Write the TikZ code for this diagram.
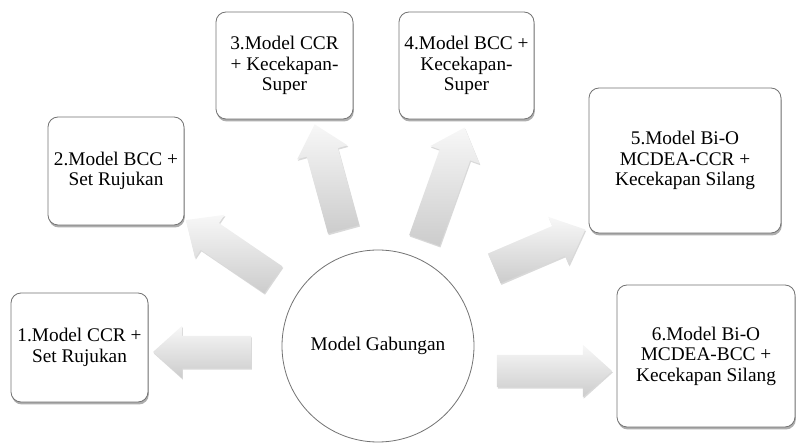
\documentclass[tikz,border=0pt]{standalone}
\usepackage{fontspec}
\setmainfont{Liberation Serif}
\usetikzlibrary{shapes.arrows,shadows}
\begin{document}
\begin{tikzpicture}[x=1pt,y=-1pt,
  txt/.style={font=\fontsize{19.3}{20.5}\selectfont, align=center},
  box/.style={txt, draw=black!55, line width=0.8pt, rounded corners=10pt, fill=white, inner sep=0pt,
    drop shadow={shadow xshift=0.8pt, shadow yshift=-2.5pt, opacity=0.45, fill=black!70}},
  blk/.style={single arrow, draw=none, inner xsep=0pt, inner ysep=16pt, outer sep=0pt,
    single arrow head extend=10pt, single arrow tip angle=84,
    top color=black!3, bottom color=black!20,
    drop shadow={shadow xshift=0.8pt, shadow yshift=-1.5pt, opacity=0.25, fill=black!60}},
]
\useasboundingbox (0,0) rectangle (796,443);
% boxes
\node[box, minimum width=137pt, minimum height=109pt] (b1) at (79.5,347.5) {1.Model CCR +\\Set Rujukan};
\node[box, minimum width=136pt, minimum height=108pt] (b2) at (116,171) {2.Model BCC +\\Set Rujukan};
\node[box, minimum width=137pt, minimum height=107pt] (b3) at (284.5,65.5) {3.Model CCR\\+ Kecekapan-\\Super};
\node[box, minimum width=135pt, minimum height=107pt] (b4) at (466.5,65.5) {4.Model BCC +\\Kecekapan-\\Super};
\node[box, minimum width=192pt, minimum height=145pt] (b5) at (685,160.5) {5.Model Bi-O\\MCDEA-CCR +\\Kecekapan Silang};
\node[box, minimum width=178pt, minimum height=142pt] (b6) at (706,356) {6.Model Bi-O\\MCDEA-BCC +\\Kecekapan Silang};
% arrows
\node[blk, minimum height=98pt, rotate=180] (a1) at (211,352) {};
\node[blk, minimum height=106pt, rotate=145.7] (a2) at (237,255) {};
\node[blk, minimum height=109pt, rotate=105.4] (a3) at (331.5,185.5) {};
\node[blk, minimum height=120pt, rotate=70.4] (a4) at (441.5,192.5) {};
\node[blk, minimum height=99pt, rotate=23.2] (a5) at (531.5,252.5) {};
\node[blk, minimum height=115pt] (a6) at (545.5,371) {};
% centre
\node[txt, circle, draw=black!55, line width=0.8pt, fill=white, minimum size=192pt, inner sep=0pt] (c) at (378,346) {Model Gabungan};
\end{tikzpicture}
\end{document}
